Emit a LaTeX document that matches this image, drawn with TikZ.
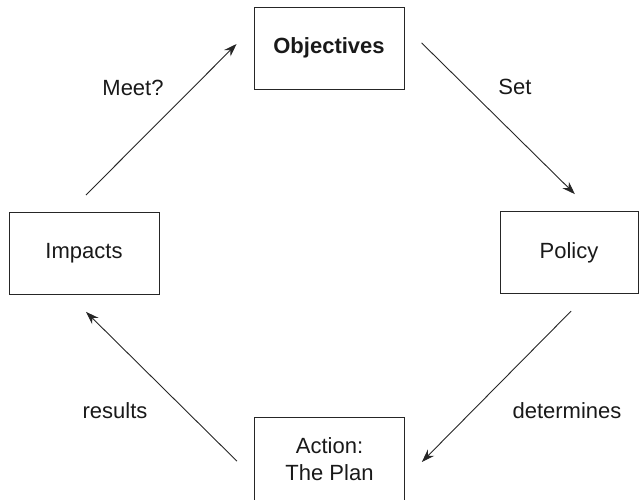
\documentclass[tikz,border=0pt]{standalone}
\usepackage{fontspec}
\setmainfont{Liberation Sans}
\usetikzlibrary{arrows.meta}
\begin{document}
\begin{tikzpicture}[x=1pt,y=-1pt,
		box/.style={rectangle,draw=black!85,line width=1pt,minimum width=150pt,minimum height=82pt,inner sep=0pt,align=center,text=black!90,font=\fontsize{22}{27}\selectfont},
		flow/.style={draw=black!85,line width=0.9pt,-{Stealth[length=13pt,width=9pt]},shorten <=24pt,shorten >=24pt},
		lbl/.style={text=black!90,font=\fontsize{22}{27}\selectfont}]
	\useasboundingbox (0,0) rectangle (639,499);
	\node[box,font=\bfseries\fontsize{22}{27}\selectfont] (obj) at (329,48) {Objectives};
	\node[box] (imp) at (84,253.5) {Impacts};
	\node[box,minimum width=138pt] (pol) at (569,252.5) {Policy};
	\node[box,minimum height=84pt] (act) at (329.5,459) {Action:\\The Plan};
	\path[flow] ([xshift=-15pt]imp.north) to node{} ([yshift=21pt]obj.west);
	\path[flow] ([yshift=22pt]obj.east) to node{} ([xshift=23pt]pol.north);
	\path[flow] ([xshift=19pt]pol.south) to node{} ([yshift=-20pt]act.east);
	\path[flow] ([yshift=-19pt]act.west) to node{} ([xshift=-15pt]imp.south);
	\node[lbl] (meet) at (133,88) {Meet?};
	\node[lbl] (set) at (515,87) {Set};
	\node[lbl] (det) at (567,411) {determines};
	\node[lbl] (res) at (115,411) {results};
\end{tikzpicture}
\end{document}
